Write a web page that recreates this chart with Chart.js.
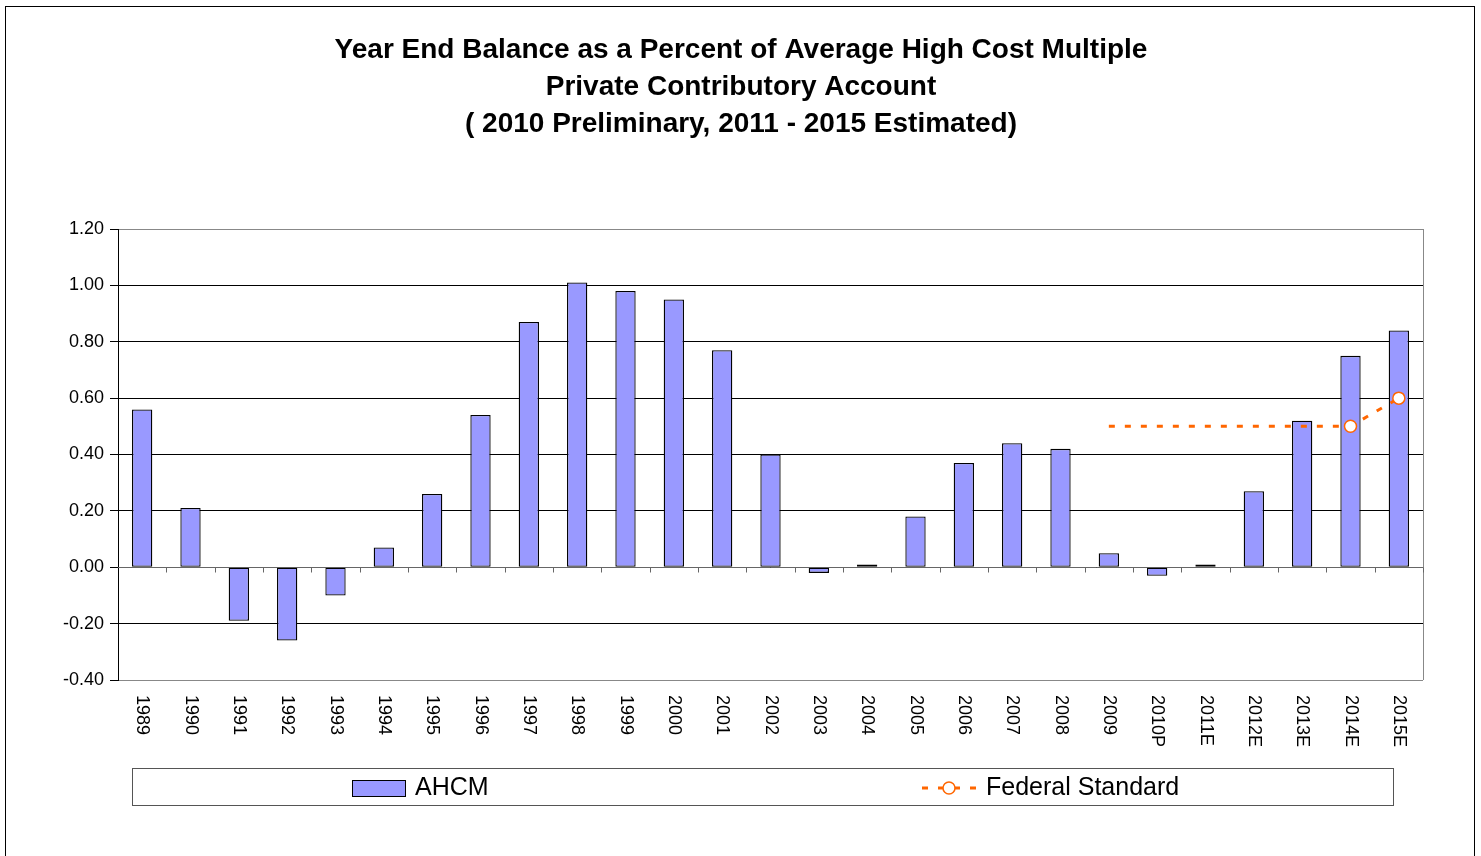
<!DOCTYPE html>
<html>
<head>
<meta charset="utf-8">
<script src="https://cdn.jsdelivr.net/npm/chart.js@4/dist/chart.umd.min.js"></script>
<style>
  html, body { margin: 0; padding: 0; background: #fff; }
  #wrap { width: 1481px; height: 856px; position: relative; }
</style>
</head>
<body>
<div id="wrap"><canvas id="grafico" width="1481" height="856"></canvas></div>
<script>
// ── DADOS
const ANOS = ['1989', '1990', '1991', '1992', '1993', '1994', '1995', '1996', '1997', '1998',
  '1999', '2000', '2001', '2002', '2003', '2004', '2005', '2006', '2007', '2008',
  '2009', '2010P', '2011E', '2012E', '2013E', '2014E', '2015E'];

const AHCM = [0.56, 0.21, -0.19, -0.26, -0.10, 0.07, 0.26, 0.54, 0.87, 1.01,
  0.98, 0.95, 0.77, 0.40, -0.02, 0.01, 0.18, 0.37, 0.44, 0.42,
  0.05, -0.03, 0.01, 0.27, 0.52, 0.75, 0.84];

const PADRAO_FEDERAL = [null, null, null, null, null, null, null, null, null, null,
  null, null, null, null, null, null, null, null, null, null,
  0.50, 0.50, 0.50, 0.50, 0.50, 0.50, 0.60];

// marcadores só aparecem nos dois últimos pontos
const RAIO_MARCADOR = [0, 0, 0, 0, 0, 0, 0, 0, 0, 0, 0, 0, 0, 0, 0, 0, 0, 0, 0, 0,
  0, 0, 0, 0, 0, 6, 6];

const TITULO = [
  'Year End Balance as a Percent of Average High Cost Multiple',
  'Private Contributory Account',
  '( 2010 Preliminary, 2011 - 2015 Estimated)'
];

const FONTE = 'Arial, "Liberation Sans", sans-serif';
const COR_BARRA = '#9999FF';
const COR_LINHA = '#FF6600';

// ── PLUGIN: fundo, título, moldura, rótulos verticais e legenda
const decoracao = {
  id: 'decoracao',
  beforeDraw(chart) {
    const ctx = chart.ctx;
    ctx.save();
    ctx.fillStyle = '#fff';
    ctx.fillRect(0, 0, chart.width, chart.height);
    ctx.strokeStyle = '#000';
    ctx.lineWidth = 1;
    ctx.strokeRect(5.5, 6.5, 1469, 900);

    ctx.fillStyle = '#000';
    ctx.font = 'bold 28px ' + FONTE;
    ctx.textAlign = 'center';
    ctx.textBaseline = 'middle';
    TITULO.forEach((t, i) => ctx.fillText(t, 741, 50 + i * 37));
    ctx.restore();
  },
  beforeDatasetsDraw(chart) {
    const ctx = chart.ctx;
    const a = chart.chartArea;
    const y = chart.scales.y;
    ctx.save();
    // borda direita cinza
    ctx.strokeStyle = '#888';
    ctx.lineWidth = 1;
    ctx.beginPath();
    ctx.moveTo(Math.round(a.right) + 0.5, a.top);
    ctx.lineTo(Math.round(a.right) + 0.5, a.bottom);
    ctx.stroke();
    // eixo das categorias no zero, com marcas
    const y0 = Math.round(y.getPixelForValue(0)) + 0.5;
    ctx.strokeStyle = '#666';
    ctx.beginPath();
    ctx.moveTo(a.left, y0);
    ctx.lineTo(a.right, y0);
    const larg = (a.right - a.left) / ANOS.length;
    for (let i = 1; i <= ANOS.length; i++) {
      const px = Math.round(a.left + i * larg) + 0.5;
      ctx.moveTo(px, y0);
      ctx.lineTo(px, y0 + 5);
    }
    ctx.stroke();
    ctx.restore();
  },
  afterDraw(chart) {
    const ctx = chart.ctx;
    const x = chart.scales.x;
    ctx.save();
    // rótulos das categorias, girados 90° (leitura de cima para baixo)
    ctx.fillStyle = '#000';
    ctx.font = '18px ' + FONTE;
    ctx.textAlign = 'left';
    ctx.textBaseline = 'middle';
    ANOS.forEach((ano, i) => {
      ctx.save();
      ctx.translate(x.getPixelForValue(i), 695);
      ctx.rotate(Math.PI / 2);
      ctx.fillText(ano, 0, 0);
      ctx.restore();
    });

    // legenda
    ctx.strokeStyle = '#555';
    ctx.lineWidth = 1;
    ctx.strokeRect(132.5, 768.5, 1261, 37);

    ctx.fillStyle = COR_BARRA;
    ctx.fillRect(352, 780, 53, 16);
    ctx.strokeStyle = '#000';
    ctx.strokeRect(352.5, 780.5, 53, 16);

    ctx.fillStyle = '#000';
    ctx.font = '25px ' + FONTE;
    ctx.textBaseline = 'middle';
    ctx.fillText('AHCM', 415, 788);

    ctx.strokeStyle = COR_LINHA;
    ctx.lineWidth = 3;
    ctx.setLineDash([6, 10]);
    ctx.beginPath();
    ctx.moveTo(922, 788);
    ctx.lineTo(976, 788);
    ctx.stroke();
    ctx.setLineDash([]);
    ctx.fillStyle = '#fff';
    ctx.lineWidth = 1.5;
    ctx.beginPath();
    ctx.arc(949, 788, 6, 0, Math.PI * 2);
    ctx.fill();
    ctx.stroke();

    ctx.fillStyle = '#000';
    ctx.fillText('Federal Standard', 986, 788);
    ctx.restore();
  }
};

function ehBorda(v) {
  return Math.abs(v - 1.2) < 1e-6 || Math.abs(v + 0.4) < 1e-6;
}

new Chart(document.getElementById('grafico'), {
  type: 'bar',
  data: {
    labels: ANOS,
    datasets: [
      {
        type: 'line',
        label: 'Federal Standard',
        data: PADRAO_FEDERAL,
        borderColor: COR_LINHA,
        borderWidth: 3,
        borderDash: [6, 10],
        pointRadius: RAIO_MARCADOR,
        pointBackgroundColor: '#fff',
        pointBorderColor: COR_LINHA,
        pointBorderWidth: 1.5,
        tension: 0,
        fill: false,
        spanGaps: false,
        order: 0
      },
      {
        type: 'bar',
        label: 'AHCM',
        data: AHCM,
        backgroundColor: COR_BARRA,
        borderColor: '#000',
        borderWidth: 1.3,
        borderSkipped: false,
        barPercentage: 0.42,
        categoryPercentage: 1.0,
        order: 1
      }
    ]
  },
  options: {
    responsive: false,
    animation: false,
    layout: { padding: { top: 229, right: 58, bottom: 176, left: 0 } },
    plugins: {
      legend: { display: false },
      title: { display: false },
      tooltip: { enabled: false }
    },
    scales: {
      x: {
        offset: true,
        grid: { display: false },
        border: { display: false },
        ticks: { display: false },
        afterFit: s => { s.height = 0; }
      },
      y: {
        min: -0.4,
        max: 1.2,
        ticks: {
          stepSize: 0.2,
          padding: 6,
          color: '#000',
          font: { family: FONTE, size: 18 },
          callback: v => v.toFixed(2)
        },
        grid: {
          color: c => (c.tick && ehBorda(c.tick.value)) ? '#888' : '#000',
          tickColor: '#000',
          tickLength: 8,
          lineWidth: 1
        },
        border: { display: true, color: '#000', width: 1 },
        afterFit: s => { s.width = 118; }
      }
    }
  },
  plugins: [decoracao]
});
</script>
</body>
</html>
